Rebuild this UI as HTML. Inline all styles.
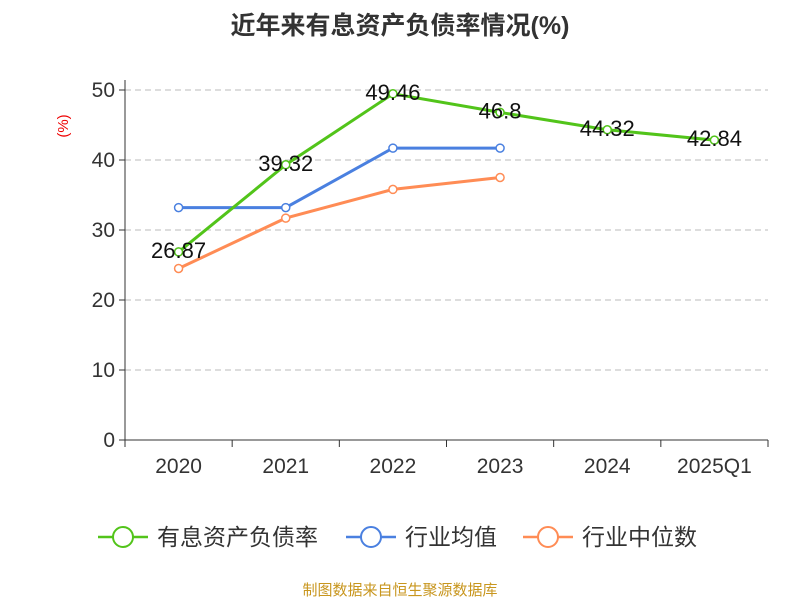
<!DOCTYPE html>
<html><head><meta charset="utf-8"><style>
body{margin:0;background:#fff;font-family:"Liberation Sans","Noto Sans CJK SC",sans-serif;}
</style></head><body>
<svg width="800" height="600" viewBox="0 0 800 600" xmlns="http://www.w3.org/2000/svg" font-family="Liberation Sans, Noto Sans CJK SC, sans-serif">
<text x="400" y="34" text-anchor="middle" font-size="25" font-weight="bold" fill="#333">近年来有息资产负债率情况(%)</text>
<text x="68" y="126" text-anchor="middle" font-size="15" fill="#e00" transform="rotate(-90 68 126)">(%)</text>
<g id="grid"></g><g id="axes"></g><g id="series"></g>
<g>
<g><line x1="98" y1="537" x2="148" y2="537" stroke="#52c41a" stroke-width="2.5"/><circle cx="123" cy="537" r="10" fill="#fff" stroke="#52c41a" stroke-width="2"/><text x="157" y="545" font-size="23" fill="#333">有息资产负债率</text></g>
<g><line x1="346" y1="537" x2="396" y2="537" stroke="#4a80e0" stroke-width="2.5"/><circle cx="371" cy="537" r="10" fill="#fff" stroke="#4a80e0" stroke-width="2"/><text x="405" y="545" font-size="23" fill="#333">行业均值</text></g>
<g><line x1="523" y1="537" x2="573" y2="537" stroke="#ff8c55" stroke-width="2.5"/><circle cx="548" cy="537" r="10" fill="#fff" stroke="#ff8c55" stroke-width="2"/><text x="582" y="545" font-size="23" fill="#333">行业中位数</text></g>
</g>
<text x="400" y="595" text-anchor="middle" font-size="15" fill="#c8961e">制图数据来自恒生聚源数据库</text>
</svg>
<script>
const categories=["2020","2021","2022","2023","2024","2025Q1"];
const ratioValues=[26.87,39.32,49.46,46.8,44.32,42.84];
const avgValues=[33.2,33.2,41.7,41.7];
const medianValues=[24.5,31.7,35.8,37.5];
const yTicks=[0,10,20,30,40,50];
const NS="http://www.w3.org/2000/svg";
const x0=125,x1=768,y0=440,yTop=90,yMax=50;
const band=(x1-x0)/categories.length;
const xs=i=>x0+band*(i+0.5);
const ys=v=>y0-(v/yMax)*(y0-yTop);
function mk(tag,attrs,parent){const e=document.createElementNS(NS,tag);for(const k in attrs)e.setAttribute(k,attrs[k]);parent.appendChild(e);return e;}
const grid=document.getElementById('grid'),axes=document.getElementById('axes'),ser=document.getElementById('series');
yTicks.forEach(t=>{
 if(t>0){const g=mk('line',{x1:x0,x2:x1,y1:ys(t),y2:ys(t),stroke:'#bbb','stroke-dasharray':'6,4'},grid);
 
 }
 const tk=mk('line',{x1:x0-6,x2:x0,y1:ys(t),y2:ys(t),stroke:'#333'},axes);
 
 
 const tl=mk('text',{x:x0-10,y:ys(t)+7,'text-anchor':'end','font-size':21,fill:'#333'},axes);
 tl.textContent=t;
 
 
});
const ya=mk('line',{x1:x0,x2:x0,y1:yTop-10,y2:y0,stroke:'#333'},axes);


const xa=mk('line',{x1:x0,x2:x1,y1:y0,y2:y0,stroke:'#333'},axes);


for(let i=0;i<=categories.length;i++){const t=mk('line',{x1:x0+band*i,x2:x0+band*i,y1:y0,y2:y0+7,stroke:'#333'},axes);
 
 }
categories.forEach((c,i)=>{const t=mk('text',{x:xs(i),y:473,'text-anchor':'middle','font-size':21,fill:'#333'},axes);t.textContent=c;
 
 });
function series(vals,color,name,labels){
 const l=mk('polyline',{points:vals.map((v,i)=>xs(i)+','+ys(v)).join(' '),fill:'none',stroke:color,'stroke-width':3},ser);
 
 
 vals.forEach((v,i)=>{const p=mk('circle',{cx:xs(i),cy:ys(v),r:4,fill:'#fff',stroke:color,'stroke-width':1.5},ser);
  
  
  if(labels){const t=mk('text',{x:xs(i),y:ys(v)+6,'text-anchor':'middle','font-size':22,fill:'#111'},ser);t.textContent=v;
  
  }
 });
}
series(avgValues,'#4a80e0','industry-avg',false);
series(medianValues,'#ff8c55','industry-median',false);
series(ratioValues,'#52c41a','debt-ratio',true);
</script>
</body></html>
